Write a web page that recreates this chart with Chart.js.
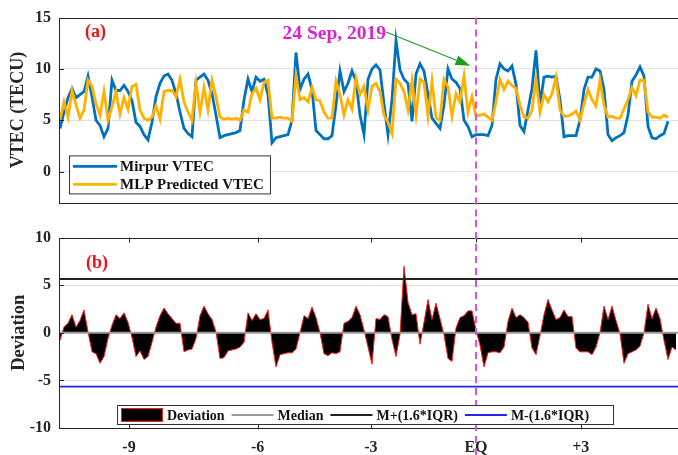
<!DOCTYPE html>
<html>
<head>
<meta charset="utf-8">
<title>Mirpur VTEC vs MLP prediction, 24 Sep 2019</title>
<script src="https://cdn.jsdelivr.net/npm/chart.js@4.4.0/dist/chart.umd.min.js"></script>
<style>
  html, body { margin: 0; padding: 0; background: #fff; overflow: hidden; }
  #wrap { position: relative; width: 678px; height: 455px; overflow: hidden; }
  #wrap canvas { position: absolute; left: 0; }
</style>
</head>
<body>
<div id="wrap">
  <canvas id="topChart" width="686" height="220" style="top:0"></canvas>
  <canvas id="bottomChart" width="686" height="235" style="top:220px"></canvas>
</div>
<script>
// samples are evenly spaced, x = sample number
const mirpurVtec = [
  4.2, 5.8, 7.2, 8.1, 7.2, 7.5, 7.8, 9.3, 7.3, 5.0, 4.5, 3.4, 4.2, 8.9, 7.9, 7.9, 8.4, 7.8, 6.9, 4.8,
  4.4, 3.6, 3.1, 4.8, 7.3, 8.6, 9.3, 9.5, 8.9, 7.6, 5.8, 4.2, 3.7, 3.4, 8.9, 9.2, 9.5, 8.9, 7.6, 5.5,
  3.3, 3.5, 3.6, 3.7, 3.8, 4.0, 7.0, 9.0, 7.8, 9.2, 8.8, 9.0, 7.5, 2.8, 3.3, 3.4, 3.5, 3.6, 5.0, 11.6,
  8.0, 9.0, 9.5, 8.0, 4.0, 3.6, 3.2, 3.2, 3.5, 6.5, 9.8, 7.8, 8.6, 9.8, 8.8, 5.5, 3.6, 9.0, 10.0, 10.4,
  9.9, 6.6, 3.6, 7.0, 12.8, 9.9, 9.0, 8.6, 4.9, 9.5, 10.5, 9.8, 7.5, 5.2, 4.7, 4.2, 6.5, 10.0, 9.0, 8.7,
  8.1, 5.0, 4.4, 3.4, 3.6, 3.6, 3.6, 3.5, 4.5, 9.0, 10.5, 10.0, 9.8, 10.3, 8.5, 4.5, 3.9, 6.0, 8.1, 11.8,
  6.5, 9.2, 9.3, 9.2, 9.3, 7.0, 3.4, 3.5, 3.5, 3.5, 5.0, 8.0, 9.2, 9.2, 10.0, 9.8, 8.0, 3.6, 3.0, 3.3,
  3.5, 3.8, 5.5, 8.8, 9.4, 10.2, 9.3, 4.4, 3.3, 3.2, 3.5, 3.7, 4.9
];
const mlpVtec = [
  5.0, 6.8, 5.3, 7.9, 6.5, 5.2, 6.0, 8.9, 8.3, 6.6, 5.5, 7.8, 5.0, 6.3, 7.8, 5.6, 7.2, 6.1, 8.3, 8.5,
  6.0, 5.2, 5.0, 5.3, 6.4, 5.1, 7.8, 7.9, 7.9, 7.3, 9.0, 6.8, 5.8, 5.0, 8.6, 5.8, 8.2, 6.0, 8.9, 7.3,
  5.3, 5.1, 5.2, 5.1, 5.2, 5.0, 6.0, 5.8, 7.6, 8.1, 7.0, 8.7, 8.9, 5.2, 5.2, 5.3, 5.2, 5.2, 4.9, 9.3,
  7.0, 7.2, 6.8, 8.2, 7.0, 6.9, 5.8, 5.2, 5.2, 8.8, 7.5, 5.5, 7.0, 6.1, 9.1, 7.5, 8.3, 6.0, 8.3, 8.6,
  7.8, 5.5, 4.8, 3.7, 9.0, 8.6, 7.8, 6.0, 8.9, 5.5, 9.0, 8.7, 5.4, 8.8, 5.2, 5.0, 9.0, 8.2, 5.4, 7.6,
  6.8, 9.3, 5.8, 7.3, 5.4, 5.5, 5.6, 5.3, 5.0, 6.8, 9.0, 8.0, 8.8, 8.4, 8.1, 6.5, 5.3, 5.2, 6.0, 9.0,
  5.8, 7.5, 6.8, 7.6, 9.2, 6.0, 5.4, 5.4, 5.6, 5.9, 5.0, 6.6, 8.0, 7.0, 6.4, 8.9, 6.5, 5.3, 5.4, 5.2,
  5.2, 6.1, 7.0, 8.2, 7.4, 8.9, 8.9, 5.8, 5.3, 5.3, 5.2, 5.5, 5.3
];
const deviation = [
  -0.8, 0.6, 1.0, 1.9, 0.6, 1.3, 2.4, 0.1, -2.0, -2.2, -3.2, -2.5, -0.6, 0.8, 1.9, 1.5, 2.1, 1.1, -0.5, -2.5,
  -1.9, -2.8, -2.5, -1.0, 0.6, 1.8, 2.6, 2.0, 1.5, 1.0, 1.0, -2.0, -1.8, -1.7, -0.6, 1.8, 2.8, 2.0, 1.4, 0.1,
  -2.7, -2.6, -1.9, -1.8, -1.7, -1.5, -1.0, 2.1, 1.3, 2.0, 1.4, 1.5, 2.4, -1.0, -3.6, -2.3, -2.2, -2.1, -2.1, -1.7,
  0.0, 1.8, 1.5, 2.7, 1.6, 0.0, -2.2, -2.4, -2.1, -2.2, -2.0, 1.0, 1.2, 1.6, 2.8, 1.9, 0.3, -1.5, -3.3, 1.5,
  1.4, 1.9, 1.7, -0.7, -2.5, -0.2, 7.0, 3.2, 1.9, 2.0, -1.2, 1.1, 3.5, 1.4, 3.1, 1.5, -0.2, -2.7, -3.0, 0.5,
  1.6, 1.8, 2.3, 2.3, 0.3, -1.3, -3.6, -2.1, -2.0, -2.0, -2.1, -1.5, 1.2, 2.6, 1.6, 1.9, 1.6, 1.1, -1.6, -2.3,
  -0.3, 1.9, 3.5, 2.4, 1.4, 1.6, 2.4, 1.7, 1.7, -1.6, -2.0, -2.0, -2.0, -2.3, -1.5, 0.0, 2.8, 1.4, 2.8, 1.3,
  -0.1, -3.2, -2.2, -2.0, -1.8, -1.4, 0.0, 3.0, 1.5, 2.6, 1.5, -0.8, -2.8, -1.5, -1.8
];
const devMedian = 0;
const devUpper = 5.65;   // M+(1.6*IQR)
const devLower = -5.65;  // M-(1.6*IQR)

// day ticks, given as sample position
const dayTickPos = [17.25, 49.4, 77.7, 104, 130.2];
const dayTickLabels = ['-9', '-6', '-3', 'EQ', '+3'];
const eqPos = 104;

const xMin = -0.25, xMax = 155;
const serif = "'Liberation Serif', 'Times New Roman', serif";
Chart.defaults.font.family = serif;
Chart.defaults.font.weight = 'bold';
Chart.defaults.color = '#262626';

function pts(arr) { return arr.map((v, i) => ({ x: i, y: v })); }
function flat(v) { return [{ x: xMin, y: v }, { x: xMax, y: v }]; }

// box + inward tick marks like matlab
const framePlugin = {
  id: 'frame',
  afterDatasetsDraw(chart, args, opts) {
    const { ctx, chartArea: a } = chart;
    ctx.save();
    ctx.strokeStyle = '#262626';
    ctx.lineWidth = 1;
    ctx.strokeRect(Math.round(a.left) + 0.5, Math.round(a.top) + 0.5, Math.round(a.right - a.left), Math.round(a.bottom - a.top));
    const ys = chart.scales.y;
    ys.ticks.forEach(t => {
      const py = Math.round(ys.getPixelForValue(t.value)) + 0.5;
      ctx.beginPath(); ctx.moveTo(a.left, py); ctx.lineTo(a.left + 5, py); ctx.stroke();
    });
    if (opts.xTicks) {
      const xs = chart.scales.x;
      xs.ticks.forEach(t => {
        const px = Math.round(xs.getPixelForValue(t.value)) + 0.5;
        ctx.beginPath(); ctx.moveTo(px, a.top); ctx.lineTo(px, a.top + 5); ctx.stroke();
        ctx.beginPath(); ctx.moveTo(px, a.bottom); ctx.lineTo(px, a.bottom - 5); ctx.stroke();
      });
    }
    ctx.restore();
  }
};

const eqLinePlugin = {
  id: 'eqLine',
  afterDraw(chart, args, opts) {
    const { ctx } = chart;
    const px = chart.scales.x.getPixelForValue(eqPos);
    ctx.save();
    ctx.strokeStyle = '#E64CE6';
    ctx.lineWidth = 2;
    ctx.setLineDash([7, 5]);
    ctx.beginPath();
    ctx.moveTo(px, opts.fromTop ? chart.chartArea.top : 0);
    ctx.lineTo(px, chart.height);
    ctx.stroke();
    ctx.restore();
  }
};

const topNotes = {
  id: 'topNotes',
  afterDraw(chart) {
    const { ctx, chartArea: a, scales: { x, y } } = chart;
    ctx.save();
    ctx.font = 'bold 18px ' + serif;
    ctx.textBaseline = 'middle';
    ctx.fillStyle = '#F01010';
    ctx.fillText('(a)', a.left + 26, a.top + 15);

    // date label + arrow to the EQ line
    const x0 = x.getPixelForValue(81.5), y0 = y.getPixelForValue(13.6);
    const x1 = x.getPixelForValue(102.6), y1 = y.getPixelForValue(10.3);
    ctx.font = 'bold 19.5px ' + serif;
    ctx.fillStyle = '#DD22CC';
    ctx.textAlign = 'right';
    ctx.fillText('24 Sep, 2019', x0, y0 + 2);
    ctx.strokeStyle = '#1E9E1E';
    ctx.fillStyle = '#1E9E1E';
    ctx.lineWidth = 1.2;
    const ang = Math.atan2(y1 - y0, x1 - x0);
    const hl = 15, hw = 5;
    const bx = x1 - hl * Math.cos(ang), by = y1 - hl * Math.sin(ang);
    ctx.beginPath(); ctx.moveTo(x0, y0); ctx.lineTo(bx, by); ctx.stroke();
    ctx.beginPath();
    ctx.moveTo(x1, y1);
    ctx.lineTo(bx + hw * Math.sin(ang), by - hw * Math.cos(ang));
    ctx.lineTo(bx - hw * Math.sin(ang), by + hw * Math.cos(ang));
    ctx.closePath(); ctx.fill();

    // legend
    const lx = a.left + 10, ly = a.bottom - 47;
    ctx.fillStyle = '#fff';
    ctx.fillRect(lx, ly, 201, 38);
    ctx.strokeStyle = '#333'; ctx.lineWidth = 1;
    ctx.strokeRect(lx + 0.5, ly + 0.5, 201, 38);
    ctx.textAlign = 'left';
    ctx.font = 'bold 15px ' + serif;
    chart.data.datasets.forEach((ds, k) => {
      const ry = ly + 11 + k * 18;
      ctx.strokeStyle = ds.borderColor; ctx.lineWidth = 2.6;
      ctx.beginPath(); ctx.moveTo(lx + 4, ry); ctx.lineTo(lx + 48, ry); ctx.stroke();
      ctx.fillStyle = '#111';
      ctx.fillText(ds.label, lx + 51, ry + 1);
    });
    ctx.restore();
  }
};

const bottomNotes = {
  id: 'bottomNotes',
  afterDraw(chart) {
    const { ctx, chartArea: a } = chart;
    ctx.save();
    ctx.font = 'bold 18px ' + serif;
    ctx.textBaseline = 'middle';
    ctx.fillStyle = '#F01010';
    ctx.fillText('(b)', a.left + 27, a.top + 26);

    const lx = a.left + 58, ly = a.bottom - 23, lw = 496, lh = 19;
    ctx.fillStyle = '#fff';
    ctx.fillRect(lx, ly, lw, lh);
    ctx.strokeStyle = '#333'; ctx.lineWidth = 1;
    ctx.strokeRect(lx + 0.5, ly + 0.5, lw, lh);
    ctx.font = 'bold 14px ' + serif;
    let cx = lx + 4;
    const cy = ly + lh / 2 + 0.5;
    chart.data.datasets.forEach(ds => {
      if (ds.fill) {
        ctx.fillStyle = '#000';
        ctx.fillRect(cx, cy - 7, 42, 14);
        ctx.strokeStyle = ds.borderColor; ctx.lineWidth = 1;
        ctx.strokeRect(cx + 0.5, cy - 6.5, 41, 13);
      } else {
        ctx.strokeStyle = ds.borderColor; ctx.lineWidth = ds.borderWidth;
        ctx.beginPath(); ctx.moveTo(cx, cy); ctx.lineTo(cx + 42, cy); ctx.stroke();
      }
      cx += 46;
      ctx.fillStyle = '#111';
      ctx.fillText(ds.label, cx, cy + 1);
      cx += ctx.measureText(ds.label).width + 7;
    });
    ctx.restore();
  }
};

new Chart(document.getElementById('topChart'), {
  type: 'line',
  data: {
    datasets: [
      { label: 'Mirpur VTEC', data: pts(mirpurVtec), borderColor: '#0072BD', borderWidth: 2.8, pointRadius: 0, order: 1 },
      { label: 'MLP Predicted VTEC', data: pts(mlpVtec), borderColor: '#FFB000', borderWidth: 2.8, pointRadius: 0, order: 0 }
    ]
  },
  options: {
    responsive: false,
    animation: false,
    layout: { padding: { top: 14, right: 6, bottom: 13, left: 0 } },
    plugins: { legend: { display: false }, tooltip: { enabled: false }, frame: {}, eqLine: { fromTop: true } },
    scales: {
      x: { type: 'linear', min: xMin, max: xMax, display: false },
      y: {
        min: -3, max: 15,
        afterBuildTicks: s => { s.ticks = [0, 5, 10, 15].map(v => ({ value: v })); },
        afterFit: s => { s.width = 59; },
        ticks: { padding: 8, font: { size: 16 } },
        grid: { drawTicks: false, color: c => (c.tick && c.tick.value === 15) ? 'rgba(0,0,0,0)' : '#e2e2e2' },
        border: { display: false },
        title: { display: true, text: 'VTEC (TECU)', font: { size: 18 }, padding: { top: 8, bottom: 6 } }
      }
    }
  },
  plugins: [framePlugin, eqLinePlugin, topNotes]
});

new Chart(document.getElementById('bottomChart'), {
  type: 'line',
  data: {
    datasets: [
      { label: 'Deviation', data: pts(deviation), borderColor: '#FF1A1A', backgroundColor: '#000', borderWidth: 1, pointRadius: 0, fill: 'origin', order: 5 },
      { label: 'Median', data: flat(devMedian), borderColor: '#9a9a9a', borderWidth: 2, pointRadius: 0, fill: false, order: 3 },
      { label: 'M+(1.6*IQR)', data: flat(devUpper), borderColor: '#222', borderWidth: 1.8, pointRadius: 0, fill: false, order: 2 },
      { label: 'M-(1.6*IQR)', data: flat(devLower), borderColor: '#2424F0', borderWidth: 1.8, pointRadius: 0, fill: false, order: 1 }
    ]
  },
  options: {
    responsive: false,
    animation: false,
    layout: { padding: { top: 16, right: 6, bottom: 0, left: 0 } },
    plugins: { legend: { display: false }, tooltip: { enabled: false }, frame: { xTicks: true }, eqLine: { fromTop: false } },
    scales: {
      x: {
        type: 'linear', min: xMin, max: xMax,
        afterBuildTicks: s => { s.ticks = dayTickPos.map(v => ({ value: v })); },
        afterFit: s => { s.height = 27; },
        ticks: { autoSkip: false, maxRotation: 0, padding: 10, font: { size: 16 },
                 callback: (v) => dayTickLabels[dayTickPos.indexOf(v)] },
        grid: { display: false, drawTicks: false },
        border: { display: false }
      },
      y: {
        min: -10, max: 10,
        afterBuildTicks: s => { s.ticks = [-10, -5, 0, 5, 10].map(v => ({ value: v })); },
        afterFit: s => { s.width = 59; },
        ticks: { padding: 8, font: { size: 16 } },
        grid: { drawTicks: false, color: c => (c.tick && Math.abs(c.tick.value) === 10) ? 'rgba(0,0,0,0)' : '#e2e2e2' },
        border: { display: false },
        title: { display: true, text: 'Deviation', font: { size: 18.5 }, padding: { top: 8, bottom: 6 } }
      }
    }
  },
  plugins: [framePlugin, eqLinePlugin, bottomNotes]
});
</script>
</body>
</html>
